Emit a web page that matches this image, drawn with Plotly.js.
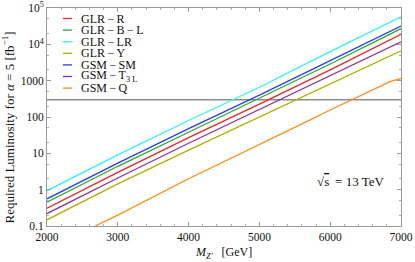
<!DOCTYPE html>
<html>
<head>
<meta charset="utf-8">
<script src="https://cdn.plot.ly/plotly-3.0.1.min.js"></script>
<style>html,body{margin:0;padding:0;background:#fff;}#chart{width:415px;height:262px;}</style>
</head>
<body>
<div id="chart"></div>
<script>
// ---- data ----
const massGrid    = [2000, 3000, 4000, 5000, 6000, 7000];
const lumiGLR_R   = [0.31, 3.0, 27, 225, 1990, 19000];
const lumiGLR_BL  = [0.45, 4.4, 38, 325, 2870, 27000];
const lumiGLR_LR  = [0.93, 9.1, 80, 660, 6300, 57000];
const lumiGLR_Y   = [0.148, 1.44, 12.3, 100, 790, 6600];
const lumiGSM_SM  = [0.56, 5.4, 48, 400, 3550, 32000];
const lumiGSM_T3L = [0.22, 2.1, 19, 162, 1350, 11800];
const massGSM_Q   = [2680, 3000, 4000, 5000, 5718, 6000, 6376, 6657, 6845, 7000];
const lumiGSM_Q   = [0.1, 0.2, 2.0, 17, 83, 156, 340, 615, 940, 1150];
const targetMass  = [2000, 7000];
const targetLumi  = [300, 300];

const seriesNames = ['GLR\u2009\u2212\u2009R', 'GLR\u2009\u2212\u2009B\u2009\u2212\u2009L', 'GLR\u2009\u2212\u2009LR', 'GLR\u2009\u2212\u2009Y',
                     'GSM\u2009\u2212\u2009SM', 'GSM\u2009\u2212\u2009T<sub>3 L</sub>', 'GSM\u2009\u2212\u2009Q'];
const seriesColors = ['#ee2424', '#2eaa2e', '#33f2f2', '#b0b000', '#2b3cf5', '#8e2f9c', '#ff8c1a'];
const seriesX = [massGrid, massGrid, massGrid, massGrid, massGrid, massGrid, massGSM_Q];
const seriesY = [lumiGLR_R, lumiGLR_BL, lumiGLR_LR, lumiGLR_Y, lumiGSM_SM, lumiGSM_T3L, lumiGSM_Q];

const yTickVals = [0.1, 1, 10, 100, 1000, 10000, 100000];
const yTickText = ['0.1', '1', '10', '100', '1000', '10<sup>4</sup>', '10<sup>5</sup>'];
const xTickVals = [2000, 3000, 4000, 5000, 6000, 7000];

// ---- layout geometry ----
const W = 415, H = 262;
const L = 47, R = 401, T = 8, B = 226;
const px = x => (x - L) / (R - L);
const py = y => (B - y) / (B - T);
const serif = 'Liberation Serif, Times New Roman, serif';

const traces = [{
  x: targetMass, y: targetLumi, mode: 'lines', showlegend: false,
  line: {color: '#8c8c8c', width: 1.5}, hoverinfo: 'skip'
}];
for (let i = 0; i < seriesNames.length; i++) {
  traces.push({x: seriesX[i], y: seriesY[i], mode: 'lines', name: seriesNames[i],
    showlegend: false, line: {color: seriesColors[i], width: 1.3}});
}

const annotations = [];
const shapes = [];
const legTop = 18.5, legStep = 11.6;
for (let i = 0; i < seriesNames.length; i++) {
  const yy = legTop + i * legStep;
  shapes.push({type: 'line', xref: 'paper', yref: 'paper', x0: px(63), x1: px(72), y0: py(yy), y1: py(yy),
    line: {color: seriesColors[i], width: 1.3}});
  annotations.push({xref: 'paper', yref: 'paper', x: px(80), y: py(yy), xanchor: 'left', yanchor: 'middle',
    text: seriesNames[i], showarrow: false, borderpad: 0,
    font: {family: serif, size: 12, color: '#111'}});
}
annotations.push({xref: 'paper', yref: 'paper', x: px(350), y: py(181.5), xanchor: 'center', yanchor: 'middle',
  text: '\u221A<span style="text-decoration:overline">s</span>\u2009 = 13 TeV', showarrow: false,
  font: {family: serif, size: 13, color: '#111'}});
annotations.push({xref: 'paper', yref: 'paper', x: px(8.5), y: py(128), xanchor: 'center', yanchor: 'middle',
  textangle: -90, text: 'Required Luminosity for <i>\u03B1</i> = 5 [fb<sup>\u22121</sup>]', showarrow: false,
  font: {family: serif, size: 13, color: '#111'}});
annotations.push({xref: 'paper', yref: 'paper', x: px(223), y: py(253), xanchor: 'center', yanchor: 'middle',
  text: '<i>M</i><sub><i>Z\u2032</i></sub>   [GeV]', showarrow: false,
  font: {family: serif, size: 12, color: '#111'}});

const layout = {
  width: W, height: H,
  margin: {l: L, r: W - R, t: T, b: H - B, pad: 0},
  paper_bgcolor: '#fff', plot_bgcolor: '#fff',
  showlegend: false,
  font: {family: serif, size: 11, color: '#111'},
  xaxis: {
    range: [2000, 7000], tickvals: xTickVals, ticktext: xTickVals.map(String),
    showgrid: false, zeroline: false, showline: true, mirror: 'ticks', linecolor: '#9a9a9a', linewidth: 1,
    ticks: 'inside', ticklen: 4, tickcolor: '#9a9a9a', tickfont: {family: serif, size: 11.5, color: '#111'},
    minor: {ticks: 'inside', ticklen: 2, tickcolor: '#b0b0b0', dtick: 200, showgrid: false}
  },
  yaxis: {
    type: 'log', range: [-1, 5], tickvals: yTickVals, ticktext: yTickText,
    showgrid: false, zeroline: false, showline: true, mirror: 'ticks', linecolor: '#9a9a9a', linewidth: 1,
    ticks: 'inside', ticklen: 4, tickcolor: '#9a9a9a', tickfont: {family: serif, size: 11.5, color: '#111'},
    minor: {ticks: 'inside', ticklen: 2, tickcolor: '#b0b0b0', showgrid: false}
  },
  annotations: annotations,
  shapes: shapes
};

Plotly.newPlot('chart', traces, layout, {displayModeBar: false, staticPlot: true});
</script>
</body>
</html>
